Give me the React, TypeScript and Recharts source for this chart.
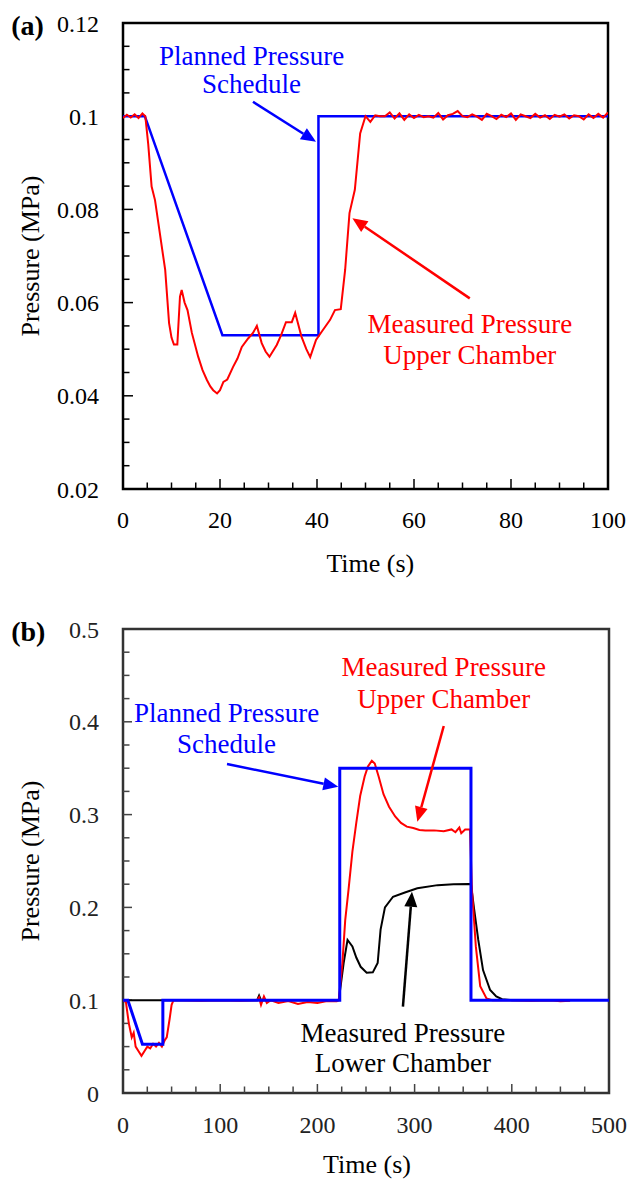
import React from 'react';
import { LineChart, Line, XAxis, YAxis, ReferenceArea, ReferenceLine, ReferenceDot } from 'recharts';

const FONT = '"Liberation Serif", "Times New Roman", serif';
const BLUE = '#0000ff';
const RED = '#ff0000';
const BLACK = '#000000';

// ---------- Panel (a) ----------
const plannedA: [number, number][] = [[0, 0.1], [4.5, 0.1], [20.5, 0.053], [40.3, 0.053], [40.3, 0.1], [100, 0.1]];
const upperA: [number, number][] = [
  [0, 0.0996], [0.8, 0.1003], [1.6, 0.0997], [2.4, 0.1004], [3.2, 0.0996], [4.0, 0.1006], [4.6, 0.1],
  [5.2, 0.094], [5.9, 0.0849], [6.6, 0.082], [7.3, 0.077], [8.7, 0.067], [9.5, 0.0556], [10.0, 0.0525],
  [10.5, 0.051], [11.2, 0.051], [11.75, 0.0613], [12.1, 0.0627], [12.7, 0.06], [13.3, 0.0584], [14.2, 0.0535],
  [15.5, 0.0484], [16.4, 0.0455], [17.3, 0.0434], [18.0, 0.042], [18.6, 0.0412], [19.4, 0.0405], [20.0, 0.0412],
  [20.7, 0.043], [21.5, 0.0435], [22.7, 0.0462], [23.6, 0.048], [24.5, 0.0505], [25.8, 0.0523], [26.8, 0.0535],
  [27.6, 0.055], [28.6, 0.0513], [29.4, 0.0495], [30.2, 0.0484], [31.7, 0.0509], [32.6, 0.053], [33.6, 0.0558],
  [34.8, 0.0558], [35.5, 0.0578], [36.8, 0.0527], [37.8, 0.05], [38.6, 0.0483], [39.8, 0.052], [41, 0.0538],
  [42.7, 0.0563], [43.7, 0.0584], [44.9, 0.0586], [45.8, 0.067], [46.7, 0.0792], [47.8, 0.0842], [48.9, 0.0963],
  [50, 0.1], [51, 0.0988], [52, 0.1002], [53, 0.1], [54, 0.1], [55, 0.1008], [56, 0.0995], [57, 0.1006],
  [58, 0.0992], [59, 0.1004], [60, 0.0996], [61, 0.1003], [62, 0.0998], [63, 0.1], [64, 0.0997], [65, 0.1007],
  [66, 0.0993], [67, 0.1002], [68, 0.1005], [69, 0.1011], [70, 0.1], [71, 0.0998], [72, 0.1004], [73, 0.0999],
  [74, 0.0992], [75, 0.1005], [76, 0.1], [77, 0.0994], [78, 0.1003], [79, 0.0998], [80, 0.1006], [81, 0.0992],
  [82, 0.1004], [83, 0.1], [84, 0.0996], [85, 0.1005], [86, 0.0997], [87, 0.1002], [88, 0.0994], [89, 0.1003],
  [90, 0.0999], [91, 0.1004], [92, 0.0995], [93, 0.1002], [94, 0.1], [95, 0.0993], [96, 0.1004], [97, 0.0996],
  [98, 0.1005], [99, 0.0997], [100, 0.1008],
];
const xTicksA = [0, 20, 40, 60, 80, 100];
const xLabelsA = ['0', '20', '40', '60', '80', '100'];
const yTicksA = [0.02, 0.04, 0.06, 0.08, 0.1, 0.12];
const yLabelsA = ['0.02', '0.04', '0.06', '0.08', '0.1', '0.12'];
const xMajorA = [20, 40, 60, 80];
const xMinorA = [5, 10, 15, 25, 30, 35, 45, 50, 55, 65, 70, 75, 85, 90, 95];
const yMajorA = [0.04, 0.06, 0.08, 0.1];
const yMinorA = [0.025, 0.03, 0.035, 0.045, 0.05, 0.055, 0.065, 0.07, 0.075, 0.085, 0.09, 0.095, 0.105, 0.11, 0.115];

const notesA = [
  { t: 26.5, v: 0.1131, text: 'Planned Pressure', color: BLUE },
  { t: 26.5, v: 0.1071, text: 'Schedule', color: BLUE },
  { t: 71.5, v: 0.0556, text: 'Measured Pressure', color: RED },
  { t: 71.5, v: 0.0488, text: 'Upper Chamber', color: RED },
];
const arrowsA = [
  { from: [26.8, 0.1031], to: [39.8, 0.0945], color: BLUE },
  { from: [71.5, 0.0609], to: [47.3, 0.0781], color: RED },
];

// ---------- Panel (b) ----------
const plannedB: [number, number][] = [[0, 0.1], [5, 0.1], [20, 0.0525], [41, 0.0525], [41, 0.1], [223, 0.1], [223, 0.35], [358, 0.35], [358, 0.1], [500, 0.1]];
const upperB: [number, number][] = [
  [0, 0.1], [3, 0.098], [6, 0.075], [9, 0.06], [11, 0.065], [13, 0.05], [16, 0.045], [19, 0.04], [22, 0.045],
  [25, 0.05], [28, 0.048], [31, 0.053], [34, 0.05], [37, 0.054], [40, 0.05], [43, 0.057], [45, 0.06], [48, 0.08],
  [50, 0.095], [52, 0.1], [60, 0.1], [80, 0.0995], [100, 0.1], [120, 0.0995], [138, 0.1], [140, 0.103],
  [142, 0.095], [145, 0.104], [148, 0.097], [152, 0.1], [160, 0.097], [170, 0.099], [180, 0.096], [190, 0.098],
  [200, 0.097], [210, 0.099], [220, 0.099], [222, 0.1], [225.7, 0.14], [228.6, 0.186], [232, 0.219], [236, 0.26],
  [240, 0.291], [244, 0.32], [248.6, 0.341], [252, 0.352], [256, 0.358], [259, 0.355], [263, 0.341], [268, 0.322],
  [273.7, 0.3085], [280, 0.298], [286, 0.291], [292, 0.287], [298.6, 0.2855], [305, 0.2835], [311, 0.283],
  [320, 0.283], [330, 0.282], [338, 0.284], [342, 0.281], [346, 0.286], [348, 0.28], [352, 0.284], [357, 0.284],
  [359, 0.219], [363, 0.158], [367.5, 0.115], [374, 0.102], [380, 0.1], [400, 0.1], [420, 0.0995], [440, 0.1],
  [450, 0.099], [460, 0.0995],
];
const lowerB: [number, number][] = [
  [0, 0.1], [138, 0.1], [140, 0.105], [142, 0.1], [222, 0.1], [227, 0.14], [231, 0.165], [236, 0.158],
  [240, 0.146], [244.5, 0.136], [250.7, 0.1297], [257, 0.13], [262, 0.14], [265, 0.176], [269.5, 0.2],
  [277.8, 0.2115], [290, 0.216], [302.8, 0.2206], [323.7, 0.224], [340, 0.225], [356, 0.2252], [358, 0.225],
  [361, 0.2], [365.5, 0.165], [370.4, 0.1325], [377.7, 0.111], [384, 0.104], [390, 0.101], [400, 0.1], [460, 0.1],
];
const xTicksB = [0, 100, 200, 300, 400, 500];
const xLabelsB = ['0', '100', '200', '300', '400', '500'];
const yTicksB = [0, 0.1, 0.2, 0.3, 0.4, 0.5];
const yLabelsB = ['0', '0.1', '0.2', '0.3', '0.4', '0.5'];
const xMajorB = [100, 200, 300, 400];
const xMinorB = [25, 50, 75, 125, 150, 175, 225, 250, 275, 325, 350, 375, 425, 450, 475];
const yMajorB = [0.1, 0.2, 0.3, 0.4];
const yMinorB = [0.025, 0.05, 0.075, 0.125, 0.15, 0.175, 0.225, 0.25, 0.275, 0.325, 0.35, 0.375, 0.425, 0.45, 0.475];

const notesB = [
  { t: 330, v: 0.4594, text: 'Measured Pressure', color: RED },
  { t: 330, v: 0.4256, text: 'Upper Chamber', color: RED },
  { t: 106.5, v: 0.4098, text: 'Planned Pressure', color: BLUE },
  { t: 106.5, v: 0.3768, text: 'Schedule', color: BLUE },
  { t: 288, v: 0.065, text: 'Measured Pressure', color: BLACK },
  { t: 288, v: 0.0327, text: 'Lower Chamber', color: BLACK },
];
const arrowsB = [
  { from: [330, 0.3955], to: [302.8, 0.2923], color: RED },
  { from: [107, 0.3545], to: [221.5, 0.33], color: BLUE },
  { from: [288, 0.093], to: [297.3, 0.2169], color: BLACK },
];

const rows = (pts: [number, number][]) => pts.map(([t, v]) => ({ t, v }));

const xTickShape = (len: number, color: string) => (p: any) => (
  <line x1={p.x1} y1={p.y1} x2={p.x1} y2={p.y1 - len} stroke={color} strokeWidth={1.5} />
);
const yTickShape = (len: number, color: string) => (p: any) => (
  <line x1={p.x1} y1={p.y1} x2={p.x1 + len} y2={p.y1} stroke={color} strokeWidth={1.5} />
);
const arrowShape = (color: string, w: number) => (p: any) => {
  const { x1, y1, x2, y2 } = p;
  const dx = x2 - x1;
  const dy = y2 - y1;
  const L = Math.hypot(dx, dy) || 1;
  const ux = dx / L;
  const uy = dy / L;
  const hl = 15;
  const hw = 6.5;
  const bx = x2 - ux * hl;
  const by = y2 - uy * hl;
  return (
    <g>
      <line x1={x1} y1={y1} x2={bx} y2={by} stroke={color} strokeWidth={w} />
      <polygon points={`${x2},${y2} ${bx - uy * hw},${by + ux * hw} ${bx + uy * hw},${by - ux * hw}`} fill={color} />
    </g>
  );
};

const textDot = (key: string, t: number, v: number, text: string, color: string, size: number, extra: any = {}) => (
  <ReferenceDot
    key={key}
    x={t}
    y={v}
    r={0}
    fill="none"
    stroke="none"
    ifOverflow="visible"
    label={{ value: text, position: 'center', fill: color, fontSize: size, fontFamily: FONT, ...extra }}
  />
);

function PanelA() {
  const tickColor = '#000';
  return (
    <LineChart width={632} height={600} margin={{ top: 23, right: 24, bottom: 0, left: 0 }}>
      <XAxis
        type="number"
        dataKey="t"
        domain={[0, 100]}
        allowDataOverflow
        ticks={xTicksA}
        interval={0}
        tickFormatter={(_v: number, i: number) => xLabelsA[i]}
        tickLine={false}
        axisLine={false}
        tickSize={0}
        tickMargin={22}
        height={111}
        tick={{ fontSize: 24, fontFamily: FONT, fill: '#000' }}
      />
      <YAxis
        type="number"
        domain={[0.02, 0.12]}
        allowDataOverflow
        ticks={yTicksA}
        interval={0}
        tickFormatter={(_v: number, i: number) => yLabelsA[i]}
        tickLine={false}
        axisLine={false}
        tickSize={0}
        tickMargin={24}
        width={123}
        tick={{ fontSize: 24, fontFamily: FONT, fill: '#000' }}
      />
      {xMinorA.map((t) => (
        <ReferenceLine key={'xm' + t} segment={[{ x: t, y: 0.02 }, { x: t, y: 0.02 }]} shape={xTickShape(6.5, tickColor)} />
      ))}
      {xMajorA.map((t) => (
        <ReferenceLine key={'xM' + t} segment={[{ x: t, y: 0.02 }, { x: t, y: 0.02 }]} shape={xTickShape(10, tickColor)} />
      ))}
      {yMinorA.map((v) => (
        <ReferenceLine key={'ym' + v} segment={[{ x: 0, y: v }, { x: 0, y: v }]} shape={yTickShape(6.5, tickColor)} />
      ))}
      {yMajorA.map((v) => (
        <ReferenceLine key={'yM' + v} segment={[{ x: 0, y: v }, { x: 0, y: v }]} shape={yTickShape(10, tickColor)} />
      ))}
      <Line data={rows(plannedA)} dataKey="v" type="linear" stroke={BLUE} strokeWidth={2.5} dot={false} isAnimationActive={false} />
      <Line data={rows(upperA)} dataKey="v" type="linear" stroke={RED} strokeWidth={2} dot={false} isAnimationActive={false} />
      <ReferenceArea x1={0} x2={100} y1={0.02} y2={0.12} fill="none" fillOpacity={0} stroke="#000" strokeWidth={2.5} ifOverflow="visible" />
      {arrowsA.map((a, i) => (
        <ReferenceLine
          key={'arA' + i}
          ifOverflow="visible"
          segment={[{ x: a.from[0], y: a.from[1] }, { x: a.to[0], y: a.to[1] }]}
          shape={arrowShape(a.color, 2.5)}
        />
      ))}
      {notesA.map((n, i) => textDot('nA' + i, n.t, n.v, n.text, n.color, 27))}
      {textDot('ytA', -19.2, 0.07, 'Pressure (MPa)', '#000', 26, { angle: -90 })}
      {textDot('xtA', 51, 0.0041, 'Time (s)', '#000', 26)}
      {textDot('pA', -19.7, 0.1196, '(a)', '#000', 28, { fontWeight: 'bold' })}
    </LineChart>
  );
}

function PanelB() {
  const tickColor = '#444';
  return (
    <LineChart width={632} height={580} margin={{ top: 29, right: 23, bottom: 0, left: 0 }}>
      <XAxis
        type="number"
        dataKey="t"
        domain={[0, 500]}
        allowDataOverflow
        ticks={xTicksB}
        interval={0}
        tickFormatter={(_v: number, i: number) => xLabelsB[i]}
        tickLine={false}
        axisLine={false}
        tickSize={0}
        tickMargin={23}
        height={87}
        tick={{ fontSize: 24, fontFamily: FONT, fill: '#222' }}
      />
      <YAxis
        type="number"
        domain={[0, 0.5]}
        allowDataOverflow
        ticks={yTicksB}
        interval={0}
        tickFormatter={(_v: number, i: number) => yLabelsB[i]}
        tickLine={false}
        axisLine={false}
        tickSize={0}
        tickMargin={24}
        width={123}
        tick={{ fontSize: 24, fontFamily: FONT, fill: '#222' }}
      />
      {xMinorB.map((t) => (
        <ReferenceLine key={'xm' + t} segment={[{ x: t, y: 0 }, { x: t, y: 0 }]} shape={xTickShape(6.5, tickColor)} />
      ))}
      {xMajorB.map((t) => (
        <ReferenceLine key={'xM' + t} segment={[{ x: t, y: 0 }, { x: t, y: 0 }]} shape={xTickShape(9, tickColor)} />
      ))}
      {yMinorB.map((v) => (
        <ReferenceLine key={'ym' + v} segment={[{ x: 0, y: v }, { x: 0, y: v }]} shape={yTickShape(6.5, tickColor)} />
      ))}
      {yMajorB.map((v) => (
        <ReferenceLine key={'yM' + v} segment={[{ x: 0, y: v }, { x: 0, y: v }]} shape={yTickShape(9, tickColor)} />
      ))}
      <Line data={rows(lowerB)} dataKey="v" type="linear" stroke={BLACK} strokeWidth={2} dot={false} isAnimationActive={false} />
      <Line data={rows(upperB)} dataKey="v" type="linear" stroke={RED} strokeWidth={2} dot={false} isAnimationActive={false} />
      <Line data={rows(plannedB)} dataKey="v" type="linear" stroke={BLUE} strokeWidth={3} dot={false} isAnimationActive={false} />
      <ReferenceArea x1={0} x2={500} y1={0} y2={0.5} fill="none" fillOpacity={0} stroke="#333" strokeWidth={2.5} ifOverflow="visible" />
      {arrowsB.map((a, i) => (
        <ReferenceLine
          key={'arB' + i}
          ifOverflow="visible"
          segment={[{ x: a.from[0], y: a.from[1] }, { x: a.to[0], y: a.to[1] }]}
          shape={arrowShape(a.color, 2.5)}
        />
      ))}
      {notesB.map((n, i) => textDot('nB' + i, n.t, n.v, n.text, n.color, 27))}
      {textDot('ytB', -95.7, 0.25, 'Pressure (MPa)', '#000', 26, { angle: -90 })}
      {textDot('xtB', 251, -0.0765, 'Time (s)', '#000', 26)}
      {textDot('pB', -97.4, 0.4978, '(b)', '#000', 28, { fontWeight: 'bold' })}
    </LineChart>
  );
}

export default function App() {
  return (
    <div style={{ position: 'absolute', left: 0, top: 0, width: 632, height: 1180, background: '#fff' }}>
      <div style={{ position: 'absolute', left: 0, top: 0 }}>
        <PanelA />
      </div>
      <div style={{ position: 'absolute', left: 0, top: 600 }}>
        <PanelB />
      </div>
    </div>
  );
}
